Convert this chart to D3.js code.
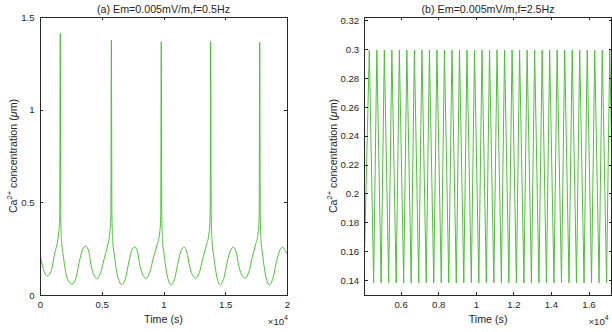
<!DOCTYPE html>
<html><head><meta charset="utf-8">
<script src="https://cdn.jsdelivr.net/npm/d3@7"></script>
<style>
body{margin:0;background:#fff}
svg{display:block}
text{font-family:"Liberation Sans",Arial,Helvetica,sans-serif;fill:#262626}
</style>
</head><body>
<svg id="c" width="612" height="332"></svg>
<script>
// ---------- Panel (a) data ----------
const titleA = "(a) Em=0.005mV/m,f=0.5Hz";
const timeA = [0,250,600,900,1190,1510,1595,1640,1685,1750,1860,2130,2350,2590,2900,3200,3450,3700,3950,4160,4380,4610,4900,5240,5480,5650,5735,5780,5825,5890,6000,6260,6440,6620,6920,7200,7420,7660,7900,8120,8360,8590,8880,9200,9480,9690,9775,9820,9865,9930,10040,10290,10450,10610,10910,11190,11420,11660,11900,12130,12380,12610,12900,13220,13480,13690,13775,13820,13865,13930,14040,14290,14430,14580,14880,15170,15410,15650,15890,16120,16370,16600,16890,17200,17450,17660,17745,17790,17835,17900,18010,18260,18410,18560,18860,19150,19400,19650,19850,20000];
const caA   = [0.225,0.144,0.103,0.13,0.225,0.335,0.42,1.412,0.42,0.29,0.225,0.108,0.07,0.058,0.09,0.185,0.245,0.264,0.235,0.153,0.105,0.088,0.12,0.207,0.27,0.335,0.42,1.376,0.42,0.29,0.225,0.108,0.07,0.056,0.09,0.18,0.24,0.26,0.232,0.15,0.104,0.09,0.12,0.207,0.27,0.335,0.42,1.367,0.42,0.29,0.225,0.108,0.07,0.054,0.09,0.18,0.238,0.258,0.23,0.15,0.104,0.09,0.12,0.207,0.27,0.335,0.42,1.367,0.42,0.29,0.225,0.108,0.07,0.054,0.09,0.18,0.238,0.258,0.23,0.15,0.104,0.09,0.12,0.207,0.27,0.335,0.42,1.365,0.42,0.29,0.225,0.108,0.07,0.055,0.09,0.18,0.238,0.258,0.24,0.222];
const xTicksA = [0,5000,10000,15000,20000];
const xTickLabelsA = ["0","0.5","1","1.5","2"];
const yTicksA = [0,0.5,1,1.5];
const yTickLabelsA = ["0","0.5","1","1.5"];
const xDomainA = [0,20000];
const yDomainA = [0,1.5];

// ---------- Panel (b) data ----------
const titleB = "(b) Em=0.005mV/m,f=2.5Hz";
const startTimeB = 4085, startValB = 0.164;
const endTimeB = 17223, endValB = 0.236;
const peakTimeB = [4330,4730,5130,5530,5930,6330,6730,7130,7530,7930,8330,8730,9130,9530,9930,10330,10730,11130,11530,11930,12330,12730,13130,13530,13930,14330,14730,15130,15530,15930,16330,16730,17130];
const peakValB  = [0.2995,0.2995,0.2995,0.2995,0.2995,0.2995,0.2995,0.2995,0.2995,0.2995,0.2995,0.2995,0.2995,0.2995,0.2995,0.2995,0.2995,0.2995,0.2995,0.2995,0.2995,0.2995,0.2995,0.2995,0.2995,0.2995,0.2995,0.2995,0.2995,0.2995,0.2995,0.2995,0.2995];
const troughTimeB = [4560,4960,5360,5760,6160,6560,6960,7360,7760,8160,8560,8960,9360,9760,10160,10560,10960,11360,11760,12160,12560,12960,13360,13760,14160,14560,14960,15360,15760,16160,16560,16960];
const troughValB  = [0.138,0.138,0.138,0.138,0.138,0.138,0.138,0.138,0.138,0.138,0.138,0.138,0.138,0.138,0.138,0.138,0.138,0.138,0.138,0.138,0.138,0.138,0.138,0.138,0.138,0.138,0.138,0.138,0.138,0.138,0.138,0.138];
const xTicksB = [6000,8000,10000,12000,14000,16000];
const xTickLabelsB = ["0.6","0.8","1","1.2","1.4","1.6"];
const yTicksB = [0.14,0.16,0.18,0.2,0.22,0.24,0.26,0.28,0.3,0.32];
const yTickLabelsB = ["0.14","0.16","0.18","0.2","0.22","0.24","0.26","0.28","0.3","0.32"];
const xDomainB = [4085,17223];
const yDomainB = [0.1296,0.3224];

const svg = d3.select("#c");
const lineColor = "#4fbf3b";
const axisColor = "#262626";

function panel(opt){
  const {id, left, right, top, bottom, xDomain, yDomain, data, xTicks, xLabels, yTicks, yLabels, title, labelX} = opt;
  const x = d3.scaleLinear().domain(xDomain).range([left, right]);
  const y = d3.scaleLinear().domain(yDomain).range([bottom, top]);
  const g = svg.append("g");

  g.append("clipPath").attr("id", "clip"+id).append("rect")
    .attr("x", left).attr("y", top).attr("width", right-left).attr("height", bottom-top);

  const line = d3.line().x(d=>x(d[0])).y(d=>y(d[1])).curve(opt.curve);
  g.append("path").datum(data).attr("clip-path", "url(#clip"+id+")")
    .attr("d", line).attr("fill","none").attr("stroke", lineColor).attr("stroke-width", 1);

  const fs = "9.6px";
  const ax = (gen, tr) => {
    const a = g.append("g").attr("transform", tr).call(gen);
    a.select(".domain").remove();
    a.selectAll(".tick line").attr("stroke", axisColor).attr("shape-rendering","crispEdges");
    a.selectAll("text").attr("font-size", fs).attr("font-family", null).attr("fill", axisColor);
    return a;
  };
  ax(d3.axisBottom(x).tickValues(xTicks).tickFormat((d,i)=>xLabels[i]).tickSize(-3).tickPadding(6), `translate(0,${bottom})`);
  ax(d3.axisTop(x).tickValues(xTicks).tickFormat("").tickSize(-3), `translate(0,${top})`);
  ax(d3.axisLeft(y).tickValues(yTicks).tickFormat((d,i)=>yLabels[i]).tickSize(-3).tickPadding(5.5), `translate(${left},0)`);
  ax(d3.axisRight(y).tickValues(yTicks).tickFormat("").tickSize(-3), `translate(${right},0)`);

  g.append("rect").attr("x", left).attr("y", top).attr("width", right-left).attr("height", bottom-top)
    .attr("fill","none").attr("stroke", axisColor).attr("stroke-width", 1).attr("shape-rendering","crispEdges");

  const cx = (left+right)/2, cy = (top+bottom)/2;
  g.append("text").attr("x", cx).attr("y", 13).attr("text-anchor","middle").attr("font-size","10.7px").text(title);
  g.append("text").attr("x", cx).attr("y", 323).attr("text-anchor","middle").attr("font-size","10.7px").text("Time (s)");

  // x10^4 multiplier
  const m = g.append("text").attr("font-size","9.6px").attr("y", 325);
  if (opt.multAnchor === "end") m.attr("x", right+1).attr("text-anchor","end");
  else m.attr("x", opt.multX).attr("text-anchor","start");
  m.append("tspan").text("\u00d710");
  m.append("tspan").attr("dy", -5).attr("font-size","7px").text("4");

  // y label
  const yl = g.append("text").attr("transform", `translate(${labelX},${cy}) rotate(-90)`)
    .attr("text-anchor","middle").attr("font-size","10.7px");
  yl.append("tspan").text("Ca");
  yl.append("tspan").attr("dy", -4.5).attr("font-size","7.5px").text("2+");
  yl.append("tspan").attr("dy", 4.5).text(" concentration (");
  yl.append("tspan").attr("font-style","italic").text("\u03bc");
  yl.append("tspan").text("m)");
}

const dataA = timeA.map((t,i)=>[t, caA[i]]);
const dataB = [[startTimeB, startValB]]
  .concat(peakTimeB.map((t,i)=>[t, peakValB[i]]))
  .concat(troughTimeB.map((t,i)=>[t, troughValB[i]]))
  .concat([[endTimeB, endValB]])
  .sort((a,b)=>a[0]-b[0]);

panel({id:"a", left:40, right:287, top:17, bottom:295, xDomain:xDomainA, yDomain:yDomainA, data:dataA,
  xTicks:xTicksA, xLabels:xTickLabelsA, yTicks:yTicksA, yLabels:yTickLabelsA, title:titleA, labelX:16.5,
  curve:d3.curveMonotoneX, multAnchor:"end"});
panel({id:"b", left:364.7, right:611.5, top:17, bottom:295, xDomain:xDomainB, yDomain:yDomainB, data:dataB,
  xTicks:xTicksB, xLabels:xTickLabelsB, yTicks:yTicksB, yLabels:yTickLabelsB, title:titleB, labelX:336.5,
  curve:d3.curveLinear, multAnchor:"start", multX:588.5});
</script>
</body></html>
